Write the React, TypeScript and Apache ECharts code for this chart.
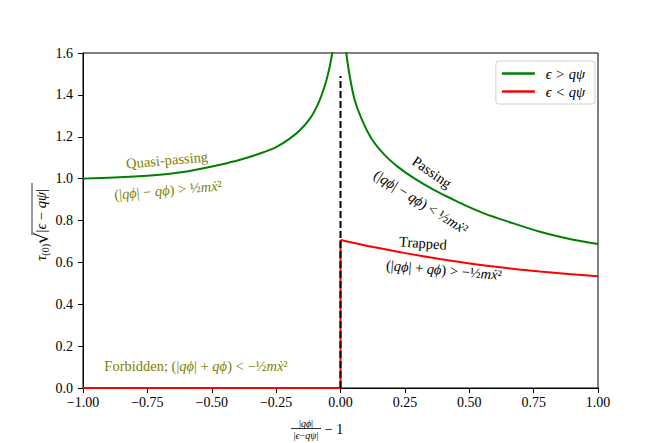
import React, { useEffect, useRef } from "react";
import * as echarts from "echarts";

// ---- data ----
const greenLeftX = [-1, -0.88, -0.75, -0.68, -0.62, -0.546, -0.468, -0.39, -0.313, -0.248, -0.196, -0.157, -0.118, -0.092, -0.073, -0.056, -0.043, -0.032, -0.025];
const greenLeftY = [1.0, 1.005, 1.014, 1.021, 1.03, 1.046, 1.066, 1.09, 1.12, 1.152, 1.192, 1.232, 1.288, 1.344, 1.4, 1.464, 1.528, 1.6, 1.66];
const greenRightX = [0.018, 0.0225, 0.036, 0.055, 0.081, 0.12, 0.172, 0.223, 0.288, 0.366, 0.43, 0.489, 0.56, 0.645, 0.775, 0.904, 1.0];
const greenRightY = [1.66, 1.6, 1.488, 1.376, 1.288, 1.192, 1.112, 1.056, 1.0, 0.944, 0.905, 0.87, 0.833, 0.797, 0.746, 0.708, 0.688];
const redLeftX = [-1, 0, 0];
const redLeftY = [0, 0, 0.707];
const redRightX = [0, 0.127, 0.257, 0.386, 0.516, 0.645, 0.775, 1.0];
const redRightY = [0.707, 0.673, 0.643, 0.616, 0.592, 0.573, 0.556, 0.534];
const dashX = [0, 0];
const dashY = [0, 1.49];
const seriesNames = ["ϵ > qψ", "ϵ < qψ"];

const zip = (xs: number[], ys: number[]) => xs.map((x, i) => [x, ys[i]]);

const SERIF = "'Liberation Serif', 'DejaVu Serif', serif";
const OLIVE = "#808000";

const richFor = (color: string, size: number) => ({
  i: { fontStyle: "italic", fontFamily: SERIF, fontSize: size, fill: color, color },
});

const mkText = (
  x: number,
  y: number,
  text: string,
  color: string,
  rotDeg: number,
  size = 14.5
) => ({
  type: "text",
  x,
  y,
  rotation: (rotDeg * Math.PI) / 180,
  style: {
    text,
    x: 0,
    y: 0,
    align: "center",
    verticalAlign: "middle",
    fill: color,
    fontFamily: SERIF,
    fontSize: size,
    rich: richFor(color, size),
  },
});

export default function App() {
  const ref = useRef<HTMLDivElement>(null);
  useEffect(() => {
    if (!ref.current) return;
    const chart = echarts.init(ref.current, undefined, { renderer: "svg" });
    const fmtX = (v: number) => (v < 0 ? "\u2212" : "") + Math.abs(v).toFixed(2);
    const fmtY = (v: number) => v.toFixed(1);
    chart.setOption({
      animation: false,
      backgroundColor: "#fff",
      grid: {
        left: 83,
        right: 66,
        top: 53,
        bottom: 55,
        show: true,
        borderColor: "#000",
        borderWidth: 1,
        backgroundColor: "transparent",
      },
      legend: {
        orient: "vertical",
        right: 69,
        top: 61,
        padding: [5, 10, 5, 6],
        itemGap: 3,
        itemWidth: 33,
        itemHeight: 2.5,
        borderColor: "#d0d0d0",
        borderWidth: 1,
        borderRadius: 3,
        backgroundColor: "#fff",
        data: seriesNames.map((n) => ({ name: n, icon: "rect" })),
        textStyle: { fontFamily: SERIF, fontSize: 14.5, fontStyle: "italic", color: "#000", padding: [0, 0, 0, 6] },
      },
      xAxis: {
        type: "value",
        min: -1,
        max: 1,
        interval: 0.25,
        axisLine: { show: true, onZero: false, lineStyle: { color: "#000", width: 1 } },
        axisTick: { show: true, inside: false, length: 5, lineStyle: { color: "#000" } },
        splitLine: { show: false },
        axisLabel: { formatter: fmtX, color: "#000", fontFamily: SERIF, fontSize: 14, margin: 7 },
      },
      yAxis: {
        type: "value",
        min: 0,
        max: 1.6,
        interval: 0.2,
        axisLine: { show: true, onZero: false, lineStyle: { color: "#000", width: 1 } },
        axisTick: { show: true, inside: false, length: 5, lineStyle: { color: "#000" } },
        splitLine: { show: false },
        axisLabel: { formatter: fmtY, color: "#000", fontFamily: SERIF, fontSize: 14, margin: 10 },
      },
      series: [
        {
          name: seriesNames[0],
          type: "line",
          data: zip(greenLeftX, greenLeftY),
          symbol: "none",
          smooth: 0.3,
          clip: true,
          lineStyle: { color: "#008000", width: 2 },
          itemStyle: { color: "#008000" },
          z: 2,
        },
        {
          name: seriesNames[0],
          type: "line",
          data: zip(greenRightX, greenRightY),
          symbol: "none",
          smooth: 0.3,
          clip: true,
          lineStyle: { color: "#008000", width: 2 },
          itemStyle: { color: "#008000" },
          z: 2,
        },
        {
          name: seriesNames[1],
          type: "line",
          data: zip(redLeftX, redLeftY),
          symbol: "none",
          clip: false,
          lineStyle: { color: "#ff0000", width: 2 },
          itemStyle: { color: "#ff0000" },
          z: 3,
        },
        {
          name: seriesNames[1],
          type: "line",
          data: zip(redRightX, redRightY),
          symbol: "none",
          smooth: 0.3,
          clip: true,
          lineStyle: { color: "#ff0000", width: 2 },
          itemStyle: { color: "#ff0000" },
          z: 3,
        },
        {
          name: "boundary",
          type: "line",
          data: zip(dashX, dashY),
          symbol: "none",
          lineStyle: { color: "#000", width: 2, type: [7, 3] },
          z: 4,
        },
      ],
      graphic: [
        mkText(167, 160, "Quasi-passing", OLIVE, 5),
        mkText(168, 190, "(|{i|qϕ}| − {i|qϕ}) > ½{i|mẋ}²", OLIVE, 5),
        mkText(432, 172, "Passing", "#000", -35),
        mkText(421, 202, "(|{i|qϕ}| − {i|qϕ}) < ½{i|mẋ}²", "#000", -32),
        mkText(423, 243, "Trapped", "#000", -4),
        mkText(444, 270, "(|{i|qϕ}| + {i|qϕ}) > −½{i|mẋ}²", "#000", -5),
        mkText(196, 366, "Forbidden; (|{i|qϕ}| + {i|qϕ}) < −½{i|mẋ}²", OLIVE, 0),
        {
          type: "group",
          x: 41,
          y: 225,
          rotation: Math.PI / 2,
          children: [
            {
              type: "text",
              style: {
                text: "{i|τ}{s|(0)}{r|√}|{i|ϵ} − {i|qψ}|",
                x: 0,
                y: 0,
                align: "center",
                verticalAlign: "middle",
                fill: "#000",
                fontFamily: SERIF,
                fontSize: 14.5,
                rich: {
                  i: { fontStyle: "italic", fontFamily: SERIF, fontSize: 14.5 },
                  s: { fontFamily: SERIF, fontSize: 10, padding: [8, 0, 0, 0] },
                  r: { fontFamily: "'DejaVu Serif', serif", fontSize: 18 },
                },
              },
            },
            {
              type: "line",
              shape: { x1: -10, y1: -9, x2: 42, y2: -9 },
              style: { stroke: "#000", lineWidth: 0.8 },
            },
          ],
        },
        {
          type: "text",
          x: 306,
          y: 423,
          style: {
            text: "|{i|qϕ}|",
            align: "center",
            verticalAlign: "middle",
            fill: "#000",
            fontFamily: SERIF,
            fontSize: 10,
            rich: { i: { fontStyle: "italic", fontFamily: SERIF, fontSize: 10 } },
          },
        },
        {
          type: "line",
          shape: { x1: 291, y1: 428.5, x2: 321, y2: 428.5 },
          style: { stroke: "#000", lineWidth: 0.8 },
        },
        {
          type: "text",
          x: 306,
          y: 435,
          style: {
            text: "|{i|ϵ}−{i|qψ}|",
            align: "center",
            verticalAlign: "middle",
            fill: "#000",
            fontFamily: SERIF,
            fontSize: 10,
            rich: { i: { fontStyle: "italic", fontFamily: SERIF, fontSize: 10 } },
          },
        },
        {
          type: "text",
          x: 334,
          y: 429,
          style: {
            text: "− 1",
            align: "center",
            verticalAlign: "middle",
            fill: "#000",
            fontFamily: SERIF,
            fontSize: 14,
          },
        },
      ],
    });
    return () => chart.dispose();
  }, []);
  return (
    <div
      ref={ref}
      style={{ position: "absolute", left: 0, top: 0, width: 664, height: 443 }}
    />
  );
}
